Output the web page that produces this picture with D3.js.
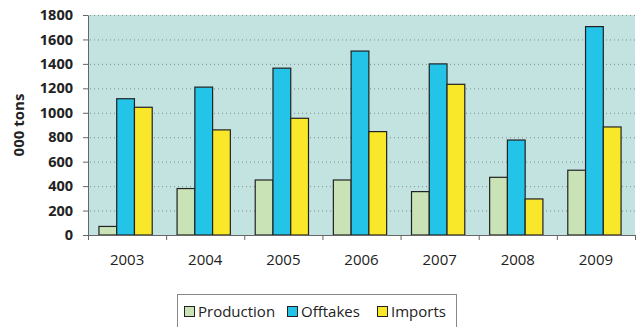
<!DOCTYPE html>
<html>
<head>
<meta charset="utf-8">
<script src="https://cdn.jsdelivr.net/npm/d3@7"></script>
<style>
  body { margin: 0; background: #fff; }
  svg { display: block; }
</style>
</head>
<body>
<svg id="chart" width="638" height="327"></svg>
<script>
// data
const years = ['2003', '2004', '2005', '2006', '2007', '2008', '2009'];
const seriesNames = ['Production', 'Offtakes', 'Imports'];
const production = [70, 380, 450, 450, 355, 472, 530];
const offtakes = [1115, 1210, 1365, 1505, 1400, 777, 1705];
const imports = [1045, 860, 955, 846, 1233, 295, 884];
const yTicks = [0, 200, 400, 600, 800, 1000, 1200, 1400, 1600, 1800];

const colors = ['#cae3b6', '#24c3e8', '#f9e82a'];
const font = '"Open Sans", sans-serif';

const svg = d3.select('#chart');
const plot = { left: 88, right: 635, top: 15, bottom: 235 };

const x = d3.scaleBand().domain(years).range([plot.left, plot.right]).paddingInner(0).paddingOuter(0);
const inner = d3.scaleBand().domain(seriesNames).range([0, x.bandwidth()]).paddingInner(0).paddingOuter(0.7);
const y = d3.scaleLinear().domain([0, 1800]).range([plot.bottom, plot.top]);

// plot background
svg.append('rect')
  .attr('x', plot.left).attr('y', plot.top)
  .attr('width', plot.right - plot.left).attr('height', plot.bottom - plot.top)
  .attr('fill', '#c3e3e0');

// dotted gridlines
svg.append('g').selectAll('line')
  .data(yTicks.filter(d => d > 0))
  .enter().append('line')
    .attr('x1', plot.left + 2).attr('x2', plot.right)
    .attr('y1', d => y(d) + 0.5).attr('y2', d => y(d) + 0.5)
    .attr('stroke', '#7f8f8c')
    .attr('stroke-width', 1)
    .attr('stroke-dasharray', '1,3');

// bars
const values = [production, offtakes, imports];
const groups = svg.append('g').selectAll('g')
  .data(years)
  .enter().append('g')
    .attr('transform', d => `translate(${x(d)},0)`);

groups.selectAll('rect')
  .data((d, i) => seriesNames.map((s, j) => ({ s, v: values[j][i], c: colors[j] })))
  .enter().append('rect')
    .attr('x', d => inner(d.s) - 1.5)
    .attr('y', d => y(d.v))
    .attr('width', inner.bandwidth())
    .attr('height', d => y(0) - y(d.v))
    .attr('fill', d => d.c)
    .attr('stroke', '#222')
    .attr('stroke-width', 1.2);

// y axis
const yAxis = svg.append('g')
  .attr('transform', `translate(${plot.left},0)`)
  .call(d3.axisLeft(y).tickValues(yTicks).tickFormat(d3.format('d')).tickSize(5).tickPadding(10).tickSizeOuter(0));
yAxis.select('.domain').attr('stroke', '#666');
yAxis.selectAll('.tick line').attr('stroke', '#666');
yAxis.selectAll('text')
  .style('font-family', font).style('font-size', '14.5px').style('font-weight', 'bold').attr('fill', '#222');

// x axis
const xAxis = svg.append('g')
  .attr('transform', `translate(0,${plot.bottom})`)
  .call(d3.axisBottom(x).tickSize(0).tickPadding(19));
xAxis.select('.domain').attr('stroke', '#666');
xAxis.selectAll('text')
  .style('font-family', font).style('font-size', '15px').attr('fill', '#222');
xAxis.append('g').selectAll('line')
  .data(years.map(d => x(d)).concat([plot.right]))
  .enter().append('line')
    .attr('x1', d => d + 0.5).attr('x2', d => d + 0.5)
    .attr('y1', 0).attr('y2', 5)
    .attr('stroke', '#666');

// y axis title
svg.append('text')
  .attr('transform', `translate(24,${(plot.top + plot.bottom) / 2}) rotate(-90)`)
  .attr('text-anchor', 'middle')
  .style('font-family', font).style('font-size', '15px').style('font-weight', 'bold')
  .attr('fill', '#222')
  .text('000 tons');

// legend
const legend = svg.append('g');
legend.append('rect')
  .attr('x', 177.5).attr('y', 294.5).attr('width', 279).attr('height', 40)
  .attr('fill', '#fff').attr('stroke', '#888');
const legendX = [184, 287, 377];
const items = legend.selectAll('g.item')
  .data(seriesNames)
  .enter().append('g')
    .attr('class', 'item')
    .attr('transform', (d, i) => `translate(${legendX[i]},306)`);
items.append('rect')
  .attr('x', 0.5).attr('y', 0.5)
  .attr('width', 10).attr('height', 10)
  .attr('fill', (d, i) => colors[i])
  .attr('stroke', '#222');
items.append('text')
  .attr('x', 14).attr('y', 11)
  .style('font-family', font).style('font-size', '15px')
  .attr('fill', '#222')
  .text(d => d);
</script>
</body>
</html>
